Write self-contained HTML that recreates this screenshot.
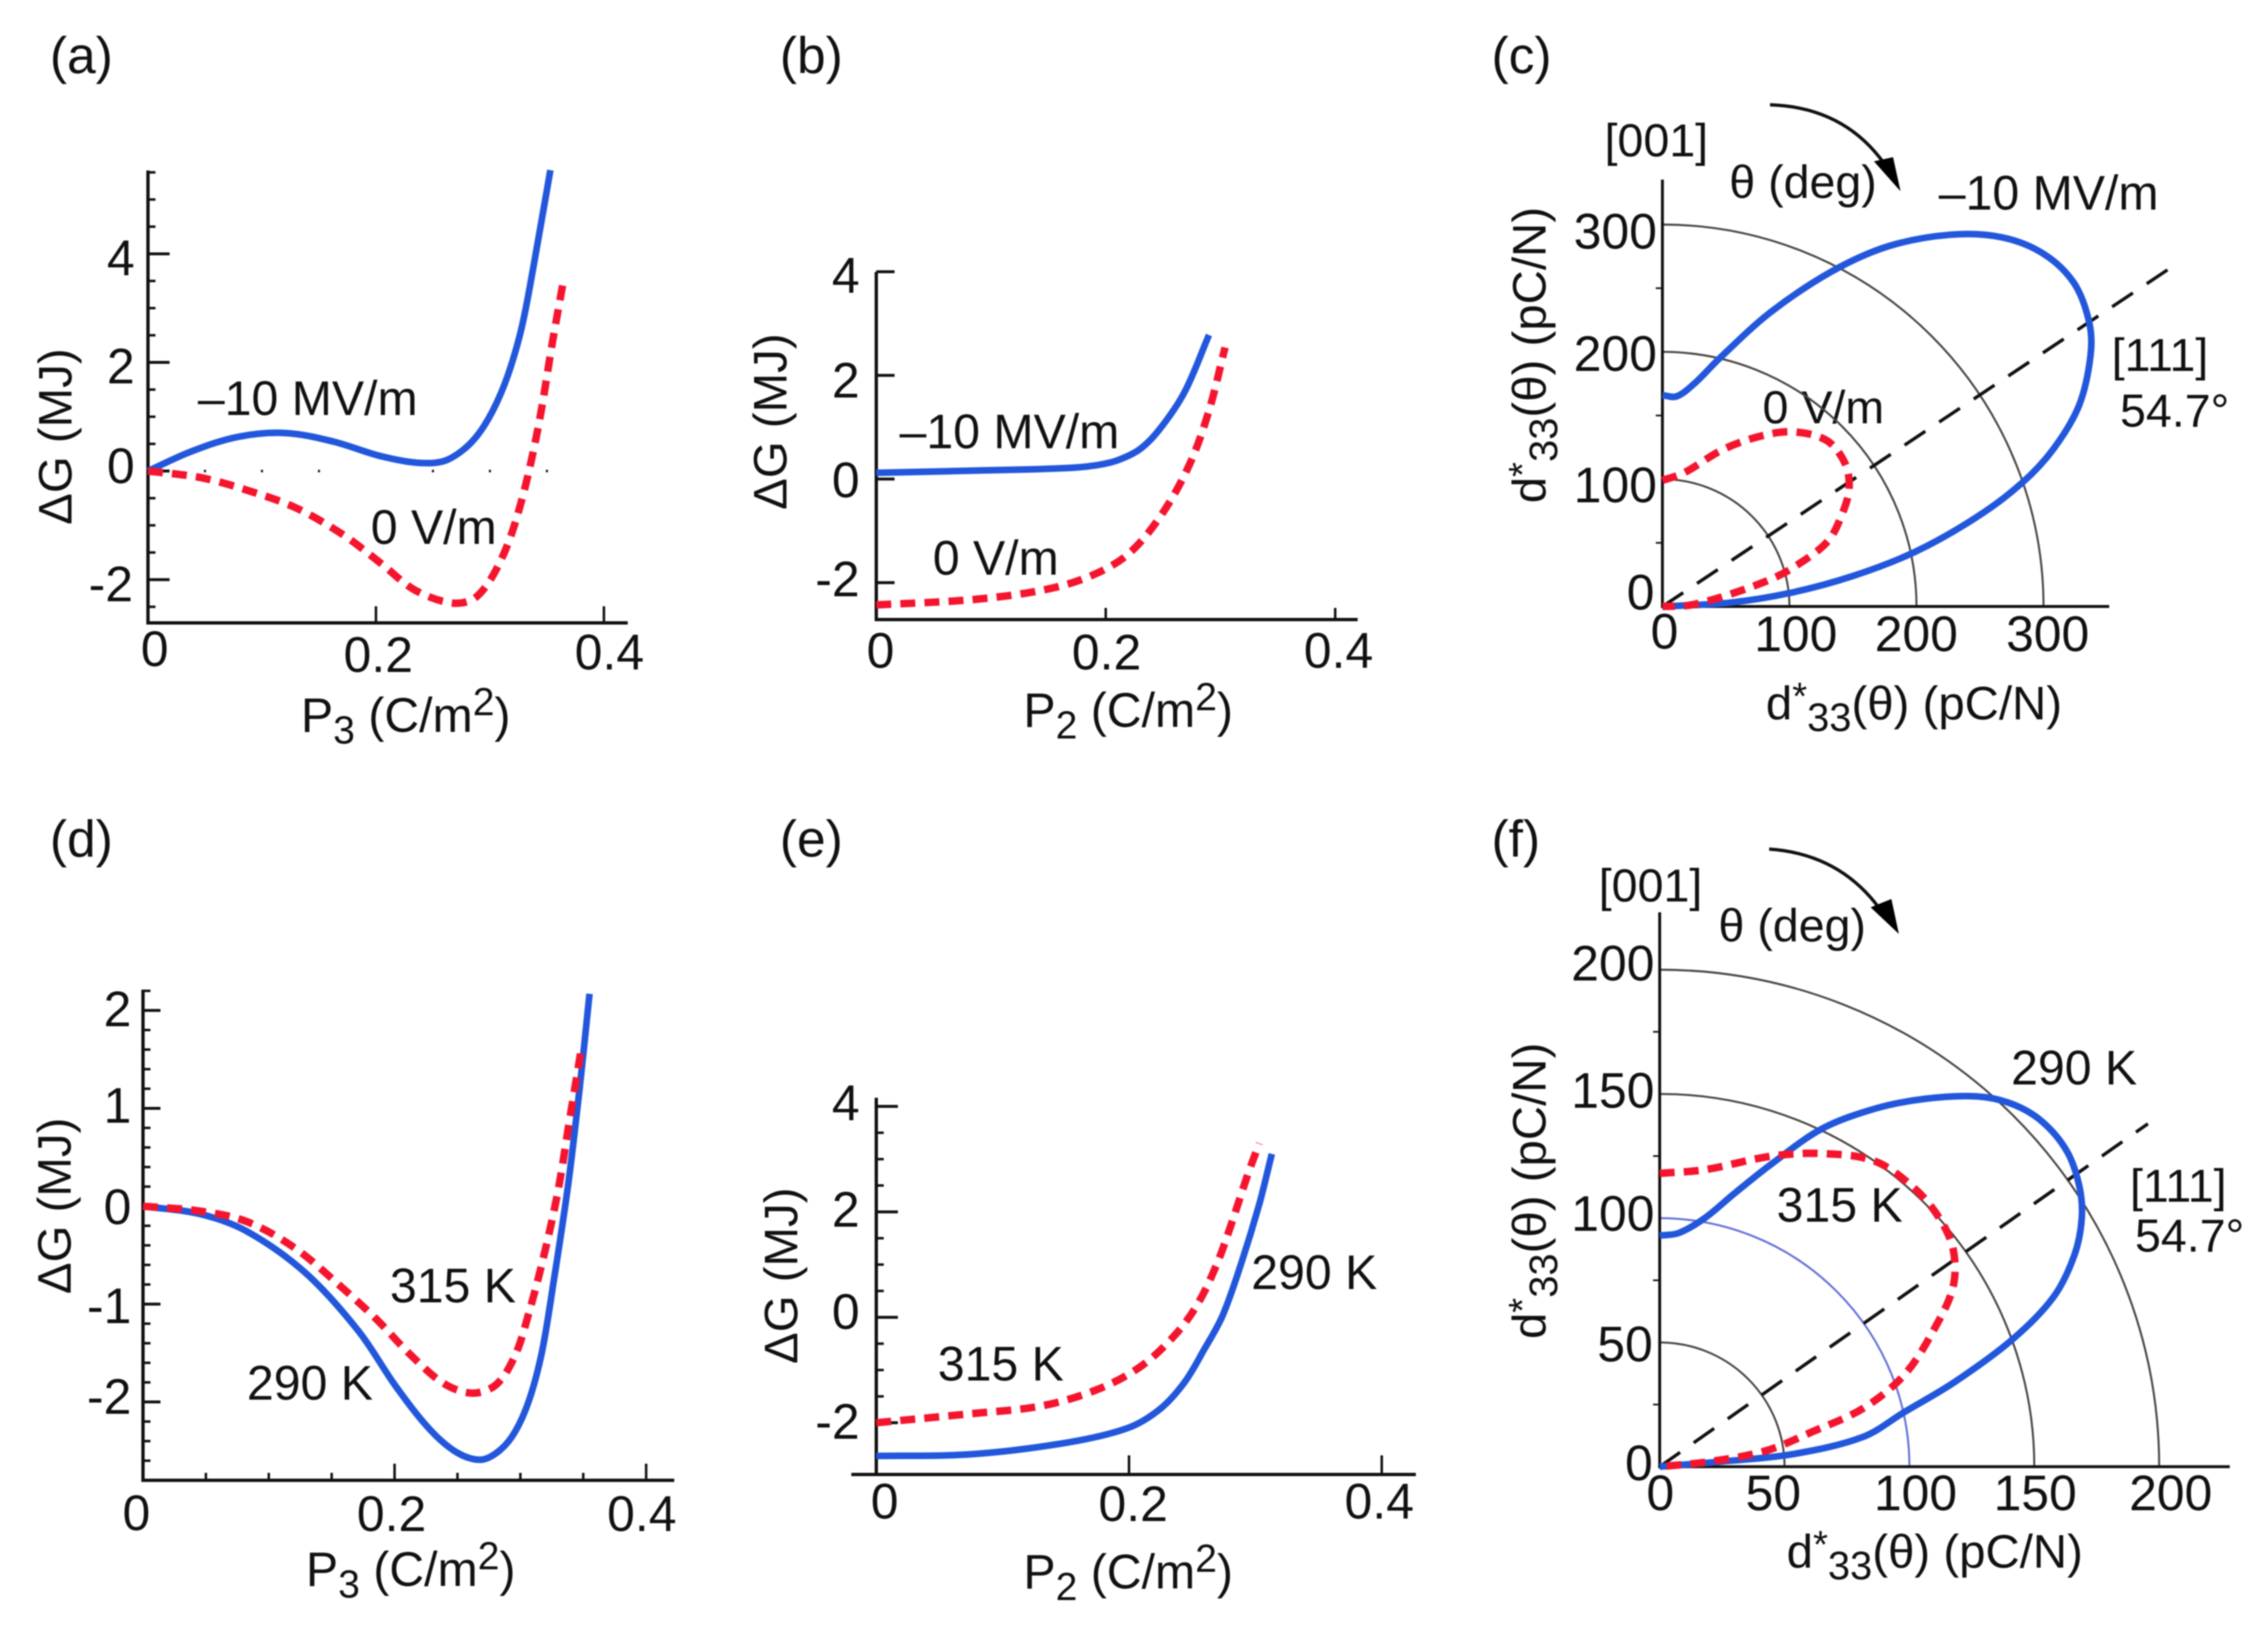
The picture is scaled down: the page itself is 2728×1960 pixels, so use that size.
<!DOCTYPE html>
<html lang="en">
<head>
<meta charset="utf-8">
<title>Free energy and piezoelectric response panels</title>
<style>
html,body{margin:0;padding:0;background:#fff;width:2728px;height:1960px;overflow:hidden}
svg{display:block;filter:blur(0.9px)}
text{font-family:"Liberation Sans",Arial,sans-serif;fill:#111;font-size:56px}
.tick{font-size:60px}
.lbl{font-size:58px}
.pl{font-size:62px}
.yt{font-size:57px}
</style>
</head>
<body>
<svg id="figure" xmlns="http://www.w3.org/2000/svg" width="2728" height="1960" viewBox="0 0 2728 1960">
<rect width="2728" height="1960" fill="#fff"/>

<g id="a">
<text class="pl" x="60" y="88">(a)</text>
<text class="yt" transform="translate(86 525) rotate(-90)" text-anchor="middle">ΔG (MJ)</text>
<g text-anchor="end">
<text class="tick" x="162" y="331">4</text><text class="tick" x="162" y="461">2</text><text class="tick" x="162" y="581">0</text><text class="tick" x="160" y="723">-2</text>
</g>
<g text-anchor="middle">
<text class="tick" x="186" y="801">0</text><text class="tick" x="455" y="808">0.2</text><text class="tick" x="733" y="805">0.4</text>
</g>
<text class="lbl" x="362" y="880">P<tspan font-size="47" dy="14">3</tspan><tspan dy="-14"> (C/m</tspan><tspan font-size="47" dy="-20">2</tspan><tspan dy="20">)</tspan></text>
<text class="lbl" x="238" y="499">–10 MV/m</text>
<text class="lbl" x="446" y="654">0 V/m</text>
</g>

<g id="b">
<text class="pl" x="938" y="88">(b)</text>
<text class="yt" transform="translate(946 507) rotate(-90)" text-anchor="middle">ΔG (MJ)</text>
<g text-anchor="end">
<text class="tick" x="1034" y="352">4</text><text class="tick" x="1034" y="478">2</text><text class="tick" x="1034" y="598">0</text><text class="tick" x="1034" y="717">-2</text>
</g>
<g text-anchor="middle">
<text class="tick" x="1059" y="803">0</text><text class="tick" x="1331" y="805">0.2</text><text class="tick" x="1610" y="803">0.4</text>
</g>
<text class="lbl" x="1231" y="874">P<tspan font-size="47" dy="14">2</tspan><tspan dy="-14"> (C/m</tspan><tspan font-size="47" dy="-20">2</tspan><tspan dy="20">)</tspan></text>
<text class="lbl" x="1082" y="539">–10 MV/m</text>
<text class="lbl" x="1122" y="691">0 V/m</text>
</g>

<g id="c">
<text class="pl" x="1794" y="88">(c)</text>
<text x="1930" y="188">[001]</text>
<text x="2080" y="238">θ (deg)</text>
<text class="lbl" x="2332" y="252">–10 MV/m</text>
<text x="2540" y="446">[111]</text>
<text x="2550" y="513">54.7°</text>
<text x="2120" y="509">0 V/m</text>
<g text-anchor="end">
<text class="tick" x="1993" y="299">300</text><text class="tick" x="1993" y="446">200</text><text class="tick" x="1993" y="604">100</text><text class="tick" x="1990" y="733">0</text>
</g>
<g text-anchor="middle">
<text class="tick" x="2002" y="780">0</text><text class="tick" x="2160" y="783">100</text><text class="tick" x="2305" y="783">200</text><text class="tick" x="2463" y="783">300</text>
</g>
<text class="yt" x="2124" y="865">d<tspan font-size="46" dy="-12">*</tspan><tspan font-size="48" dy="26">33</tspan><tspan dy="-14">(θ) (pC/N)</tspan></text>
<text class="yt" transform="translate(1859 427) rotate(-90)" text-anchor="middle">d<tspan font-size="46" dy="-12">*</tspan><tspan font-size="48" dy="26">33</tspan><tspan dy="-14">(θ) (pC/N)</tspan></text>
<path d="M2129 126Q2223 129 2272 205" fill="none" stroke="#111" stroke-width="4"/>
<polygon points="2286,230 2254,194 2277,189" fill="#000"/>
</g>

<g id="d">
<text class="pl" x="60" y="1030">(d)</text>
<text class="yt" transform="translate(85 1450) rotate(-90)" text-anchor="middle">ΔG (MJ)</text>
<g text-anchor="end">
<text class="tick" x="158" y="1234">2</text><text class="tick" x="158" y="1350">1</text><text class="tick" x="158" y="1472">0</text><text class="tick" x="158" y="1591">-1</text><text class="tick" x="158" y="1700">-2</text>
</g>
<g text-anchor="middle">
<text class="tick" x="164" y="1840">0</text><text class="tick" x="471" y="1841">0.2</text><text class="tick" x="772" y="1841">0.4</text>
</g>
<text class="lbl" x="368" y="1907">P<tspan font-size="47" dy="14">3</tspan><tspan dy="-14"> (C/m</tspan><tspan font-size="47" dy="-20">2</tspan><tspan dy="20">)</tspan></text>
<text class="lbl" x="469" y="1566">315 K</text>
<text class="lbl" x="297" y="1683">290 K</text>
</g>

<g id="e">
<text class="pl" x="938" y="1030">(e)</text>
<text class="yt" transform="translate(959 1534) rotate(-90)" text-anchor="middle">ΔG (MJ)</text>
<g text-anchor="end">
<text class="tick" x="1034" y="1347">4</text><text class="tick" x="1034" y="1475">2</text><text class="tick" x="1034" y="1598">0</text><text class="tick" x="1034" y="1730">-2</text>
</g>
<g text-anchor="middle">
<text class="tick" x="1064" y="1826">0</text><text class="tick" x="1363" y="1829">0.2</text><text class="tick" x="1659" y="1826">0.4</text>
</g>
<text class="lbl" x="1231" y="1910">P<tspan font-size="47" dy="14">2</tspan><tspan dy="-14"> (C/m</tspan><tspan font-size="47" dy="-20">2</tspan><tspan dy="20">)</tspan></text>
<text class="lbl" x="1128" y="1660">315 K</text>
<text class="lbl" x="1505" y="1550">290 K</text>
</g>

<g id="f">
<text class="pl" x="1794" y="1030">(f)</text>
<text x="1923" y="1084">[001]</text>
<text x="2067" y="1132">θ (deg)</text>
<g text-anchor="end">
<text class="tick" x="1990" y="1179">200</text><text class="tick" x="1990" y="1332">150</text><text class="tick" x="1990" y="1480">100</text><text class="tick" x="1988" y="1637">50</text><text class="tick" x="1988" y="1780">0</text>
</g>
<g text-anchor="middle">
<text class="tick" x="1997" y="1816">0</text><text class="tick" x="2133" y="1816">50</text><text class="tick" x="2304" y="1816">100</text><text class="tick" x="2448" y="1816">150</text><text class="tick" x="2611" y="1816">200</text>
</g>
<text class="yt" x="2149" y="1885">d<tspan font-size="46" dy="-12">*</tspan><tspan font-size="48" dy="26">33</tspan><tspan dy="-14">(θ) (pC/N)</tspan></text>
<text class="yt" transform="translate(1859 1432) rotate(-90)" text-anchor="middle">d<tspan font-size="46" dy="-12">*</tspan><tspan font-size="48" dy="26">33</tspan><tspan dy="-14">(θ) (pC/N)</tspan></text>
<text class="lbl" x="2419" y="1304">290 K</text>
<text class="lbl" x="2137" y="1469">315 K</text>
<text x="2562" y="1445">[111]</text>
<text x="2568" y="1505">54.7°</text>
<path d="M2128 1021Q2217 1027 2266 1100" fill="none" stroke="#111" stroke-width="4"/>
<polygon points="2284,1123 2250,1091 2275,1081" fill="#000"/>
</g>
</svg>

<script>
// Panel (a): energy vs polarization
const aBlueP = [0,.038,.079,.121,.163,.205,.238,.263,.288,.309,.326,.338,.353];
const aBlueG = [0,.36,.63,.70,.54,.27,.15,.21,.63,1.40,2.48,3.74,5.54];
const aRedP = [0,.046,.088,.13,.171,.205,.234,.267,.288,.309,.326,.342,.355,.365];
const aRedG = [0,-.12,-.36,-.68,-1.17,-1.71,-2.19,-2.43,-2.32,-1.67,-.68,.77,2.39,3.56];
const aYMajor = [-2,0,2,4];
const aYMinor = [-2.5,-1.5,-1,-.5,.5,1,1.5,2.5,3,3.5,4.5,5,5.5];
const aXMajor = [.2,.4];
const aZeroDots = [.05,.1,.15,.25,.3,.35];
// Panel (b)
const bBlueP = [0,.082,.165,.19,.21,.23,.248,.269,.29];
const bBlueG = [.12,.16,.21,.26,.36,.58,.99,1.69,2.78];
const bRedP = [0,.082,.144,.186,.219,.248,.273,.29,.304];
const bRedG = [-2.43,-2.33,-2.15,-1.88,-1.46,-.71,.28,1.32,2.54];
const bYMajor = [-2,0,2,4];
const bXMajor = [.2,.4];
// Panel (c): polar loops in Cartesian d33 components
const cBlueX = [0,11,25,45,85,133,178,227,267,300,324,336,337,328,308,283,247,199,150,102,53,0];
const cBlueY = [166,165,175,195,231,263,283,292,290,277,254,223,197,158,124,97,70,43,24,11,3,0];
const cRedX = [0,17,49,82,106,130,144,147,142,130,102,82,45,21,0];
const cRedY = [99,105,124,135,137,130,112,93,74,51,30,20,7,1,0];
const cArcs = [100,200,300];
const cMinorTicks = [50,150,250];
const cDirectionX = [0,400];
const cDirectionY = [0,266];
// Panel (d)
const dBlueP = [0,.0455,.083,.129,.171,.201,.228,.25,.269,.284,.296,.307,.317,.326,.338,.347,.355];
const dBlueG = [0,-.08,-.26,-.68,-1.27,-1.84,-2.28,-2.52,-2.59,-2.49,-2.3,-1.98,-1.5,-.81,.22,1.19,2.17];
const dRedP = [0,.0455,.083,.121,.159,.186,.212,.239,.262,.281,.296,.307,.319,.33,.339,.349];
const dRedG = [0,-.05,-.16,-.43,-.84,-1.16,-1.51,-1.81,-1.91,-1.82,-1.52,-1.08,-.49,.16,.87,1.65];
const dYMajor = [-2,-1,0,1,2];
const dYMinor = [-2.6,-2.4,-2.2,-1.8,-1.6,-1.4,-1.2,-.8,-.6,-.4,-.2,.2,.4,.6,.8,1.2,1.4,1.6,1.8,2.2];
const dXMajor = [.2,.4];
const dXMinor = [.05,.1,.15,.25,.3,.35];
// Panel (e)
const eBlueP = [0,.074,.15,.199,.225,.244,.259,.274,.289,.303,.313];
const eBlueG = [-2.63,-2.6,-2.38,-2.1,-1.73,-1.23,-.63,.03,1.04,2.14,3.1];
const eRedP = [0,.074,.131,.176,.21,.237,.255,.27,.282,.293,.303];
const eRedG = [-2,-1.83,-1.68,-1.36,-.92,-.32,.28,1.04,1.84,2.64,3.3];
const eYMajor = [-2,0,2,4];
const eYMinor = [-1.5,-1,-.5,.5,1,1.5,2.5,3,3.5];
const eXMajor = [.2,.4];
// Panel (f)
const fBlueX = [0,7.6,18,30,45,65,86,106,127,141,153,163,168,169,166,157.5,141,118,98,81.5,53,24,0];
const fBlueY = [93,94,100,110,122,136,144,148,149,146,139,127,113,100,85,68,51,34,22,12,5,2,0];
const fRedX = [0,18,45,65,86,102,112,117.5,117.5,110,98,81.5,61,42.5,20,0];
const fRedY = [118,119.5,125,126,123,112,100,87.5,72.5,55.5,37,23.5,14,6.4,2,0];
const fArcs = [50,100,150,200];
const fMinorTicks = [25,75,125,175];
const fDirectionX = [0,195.5];
const fDirectionY = [0,138];

// Axis functions
const xA = v => 178 + v * 1371, yA = v => 566.4 - v * 65.3;
const xB = v => 1054 + v * 1380, yB = v => 576 - v * 62.3;
const xC = v => 1999.6 + v * 1.528, yC = v => 729.3 - v * 1.531;
const xD = v => 172 + v * 1513, yD = v => 1450.4 - v * 117.7;
const xE = v => 1054 + v * 1520, yE = v => 1584 - v * 63.4;
const xF = v => 1996.3 + v * 3.004, yF = v => 1763.6 - v * 2.988;

const NS = 'http://www.w3.org/2000/svg';
const BLUE = '#2257dc', RED = '#f5142e', INK = '#111';

function line(parent, name, x1, y1, x2, y2, width, color) {
  const el = document.createElementNS(NS, 'line');
  
  
  el.setAttribute('x1', x1);
  el.setAttribute('y1', y1);
  el.setAttribute('x2', x2);
  el.setAttribute('y2', y2);
  el.setAttribute('stroke', color || INK);
  el.setAttribute('stroke-width', width);
  parent.appendChild(el);
  return el;
}
function path(parent, name, d, color, width, dash) {
  const el = document.createElementNS(NS, 'path');
  
  
  el.setAttribute('d', d);
  el.setAttribute('fill', 'none');
  el.setAttribute('stroke', color);
  el.setAttribute('stroke-width', width);
  el.setAttribute('stroke-linejoin', 'round');
  if (dash) el.setAttribute('stroke-dasharray', dash);
  parent.appendChild(el);
  return el;
}
// Smooth curve through the read values (non-uniform spline to avoid kinks)
function smooth(xs, ys, sx, sy) {
  const p = xs.map((v, i) => [sx(v), sy(ys[i])]);
  const n = p.length;
  const dist = [];
  for (let i = 0; i < n - 1; i++) dist.push(Math.max(Math.hypot(p[i + 1][0] - p[i][0], p[i + 1][1] - p[i][1]), 0.01));
  const tan = p.map((q, i) => {
    if (i === 0) return [(p[1][0] - q[0]) / dist[0], (p[1][1] - q[1]) / dist[0]];
    if (i === n - 1) return [(q[0] - p[i - 1][0]) / dist[i - 1], (q[1] - p[i - 1][1]) / dist[i - 1]];
    const t = dist[i - 1] + dist[i];
    return [(p[i + 1][0] - p[i - 1][0]) / t, (p[i + 1][1] - p[i - 1][1]) / t];
  });
  let d = 'M' + p[0][0].toFixed(1) + ' ' + p[0][1].toFixed(1);
  for (let i = 0; i < n - 1; i++) {
    const h = dist[i] / 3;
    d += 'C' + (p[i][0] + tan[i][0] * h).toFixed(1) + ' ' + (p[i][1] + tan[i][1] * h).toFixed(1) + ' ' +
         (p[i + 1][0] - tan[i + 1][0] * h).toFixed(1) + ' ' + (p[i + 1][1] - tan[i + 1][1] * h).toFixed(1) + ' ' +
         p[i + 1][0].toFixed(1) + ' ' + p[i + 1][1].toFixed(1);
  }
  return d;
}
function curves(g, id, bx, by, rx, ry, sx, sy) {
  path(g, 'blue-curve-' + id, smooth(bx, by, sx, sy), BLUE, 8);
  path(g, 'red-dashed-curve-' + id, smooth(rx, ry, sx, sy), RED, 9, '18 11');
}
function cartesian(id, o) {
  const g = document.getElementById(id);
  line(g, 'y-axis-' + id, o.sx(0), o.top, o.sx(0), o.bottom + 2, 4);
  line(g, 'x-axis-' + id, o.left, o.bottom, o.right, o.bottom, 4);
  o.yMajor.forEach(v => line(g, 'y-major-tick-' + id, o.sx(0), o.sy(v), o.sx(0) + o.yMajorLen, o.sy(v), 3.5));
  (o.yMinor || []).forEach(v => line(g, 'y-minor-tick-' + id, o.sx(0) - 1, o.sy(v), o.sx(0) + 9, o.sy(v), 3));
  o.xMajor.forEach(v => line(g, 'x-major-tick-' + id, o.sx(v), o.bottom, o.sx(v), o.bottom - o.xMajorLen, 3));
  (o.xMinor || []).forEach(v => line(g, 'x-minor-tick-' + id, o.sx(v), o.bottom, o.sx(v), o.bottom - 9, 3));
}
function polar(id, o) {
  const g = document.getElementById(id);
  o.arcs.forEach(r => {
    const color = (id === 'f' && r === 100) ? '#6470d8' : '#4a4440';
    path(g, 'radius-arc-' + id + '-' + r,
      'M' + o.sx(0) + ' ' + o.sy(r) + 'A' + (o.sx(r) - o.sx(0)) + ' ' + (o.sy(0) - o.sy(r)) + ' 0 0 1 ' + o.sx(r) + ' ' + o.sy(0),
      color, 2.4);
  });
  line(g, 'y-axis-' + id, o.sx(0), o.top, o.sx(0), o.sy(0) + 2, 3.5);
  line(g, 'x-axis-' + id, o.sx(0), o.sy(0), o.right, o.sy(0), 3.5);
  o.minor.forEach(v => line(g, 'y-minor-tick-' + id, o.sx(0), o.sy(v), o.sx(0) - 8, o.sy(v), 2));
  path(g, 'direction-111-line-' + id,
    'M' + o.sx(o.dirX[0]) + ' ' + o.sy(o.dirY[0]) + 'L' + o.sx(o.dirX[1]) + ' ' + o.sy(o.dirY[1]),
    '#111', 4, '30 20');
}

cartesian('a', {sx: xA, sy: yA, top: 205, bottom: 749, left: 176, right: 755, yMajor: aYMajor, yMinor: aYMinor, xMajor: aXMajor, yMajorLen: 26, xMajorLen: 20});
aZeroDots.forEach(v => line(document.getElementById('a'), 'zero-level-dot-a', xA(v), yA(0) - 1.5, xA(v), yA(0) + 1.5, 2.5));
curves(document.getElementById('a'), 'a', aBlueP, aBlueG, aRedP, aRedG, xA, yA);

cartesian('b', {sx: xB, sy: yB, top: 327, bottom: 745, left: 1052, right: 1633, yMajor: bYMajor, xMajor: bXMajor, yMajorLen: 22, xMajorLen: 14});
curves(document.getElementById('b'), 'b', bBlueP, bBlueG, bRedP, bRedG, xB, yB);

polar('c', {sx: xC, sy: yC, top: 216, right: 2537, arcs: cArcs, minor: cMinorTicks, dirX: cDirectionX, dirY: cDirectionY});
curves(document.getElementById('c'), 'c', cBlueX, cBlueY, cRedX, cRedY, xC, yC);

cartesian('d', {sx: xD, sy: yD, top: 1190, bottom: 1780, left: 170, right: 811, yMajor: dYMajor, yMinor: dYMinor, xMajor: dXMajor, xMinor: dXMinor, yMajorLen: 21, xMajorLen: 20});
curves(document.getElementById('d'), 'd', dBlueP, dBlueG, dRedP, dRedG, xD, yD);

cartesian('e', {sx: xE, sy: yE, top: 1320, bottom: 1773, left: 1024, right: 1703, yMajor: eYMajor, yMinor: eYMinor, xMajor: eXMajor, yMajorLen: 26, xMajorLen: 23});
curves(document.getElementById('e'), 'e', eBlueP, eBlueG, eRedP, eRedG, xE, yE);

polar('f', {sx: xF, sy: yF, top: 1097, right: 2682, arcs: fArcs, minor: fMinorTicks, dirX: fDirectionX, dirY: fDirectionY});
curves(document.getElementById('f'), 'f', fBlueX, fBlueY, fRedX, fRedY, xF, yF);
</script>
</body>
</html>
